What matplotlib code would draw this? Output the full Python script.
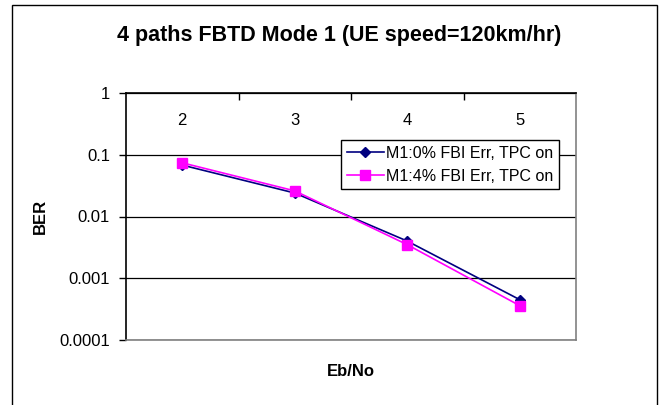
import numpy as np
import matplotlib
matplotlib.use("Agg")
import matplotlib.pyplot as plt
from matplotlib.patches import Rectangle

plt.rcParams['font.family'] = ['Liberation Sans', 'DejaVu Sans']

# Eb/No points and BER for the two FBI error settings
ebno = ['2', '3', '4', '5']
ber_0pct = [0.068, 0.024, 0.0040, 0.00045]
ber_4pct = [0.074, 0.026, 0.0035, 0.00036]
series_names = ['M1:0% FBI Err, TPC on', 'M1:4% FBI Err, TPC on']
y_ticks = [1, 0.1, 0.01, 0.001, 0.0001]
y_labels = ['1', '0.1', '0.01', '0.001', '0.0001']

fig = plt.figure(figsize=(6.62, 4.05), dpi=100)
fig.patches.append(Rectangle((12 / 662, -0.05), 645 / 662, 1 - 5 / 405 + 0.05,
                             transform=fig.transFigure, fill=False,
                             edgecolor='black', linewidth=1.0))

ax = fig.add_axes([126 / 662, 1 - 340 / 405, 450 / 662, 247 / 405])
x = np.arange(len(ebno))

ax.plot(x, ber_0pct, color='#000080', marker='D', markersize=5.5,
        linewidth=1.2, label=series_names[0], zorder=3)
ax.plot(x, ber_4pct, color='#FF00FF', marker='s', markersize=7,
        linewidth=1.2, label=series_names[1], zorder=4)

ax.set_yscale('log')
ax.set_ylim(0.0001, 1)
ax.set_xlim(-0.5, len(ebno) - 0.5)

# y axis: decades with plain labels and gridlines
ax.set_yticks(y_ticks)
ax.set_yticklabels(y_labels)
ax.yaxis.set_minor_locator(matplotlib.ticker.NullLocator())
ax.tick_params(axis='y', which='major', direction='out', length=5,
               width=1, pad=6.5, labelsize=12)
ax.grid(axis='y', color='black', linewidth=0.9)

# category axis along the top, labels sitting inside the plot
ax.xaxis.tick_top()
ax.set_xticks(x[:-1] + 0.5)
ax.set_xticklabels([])
ax.set_xticks(x, minor=True)
ax.set_xticklabels(ebno, minor=True)
ax.tick_params(axis='x', which='major', direction='in', length=5, width=1)
ax.tick_params(axis='x', which='minor', length=0, pad=-25, labelsize=12)

ax.spines['top'].set_color('black')
ax.spines['left'].set_color('black')
ax.spines['bottom'].set_color('#808080')
ax.spines['right'].set_color('#808080')
for s in ax.spines.values():
    s.set_linewidth(1.2)

ax.set_ylabel('BER', fontsize=12, fontweight='bold', labelpad=8)
fig.text(351 / 662, 1 - 371 / 405, 'Eb/No', fontsize=12,
         fontweight='bold', ha='center', va='center')
fig.text(339 / 662, 1 - 36 / 405, '4 paths FBTD Mode 1 (UE speed=120km/hr)',
         fontsize=15.5, fontweight='bold', ha='center', va='center')

leg = ax.legend(loc='upper right', bbox_to_anchor=(0.962, 0.81),
                fontsize=11.5, frameon=True, fancybox=False, framealpha=1,
                edgecolor='black', handlelength=2.3, borderpad=0.35,
                labelspacing=0.5, handletextpad=0.15, borderaxespad=0)
leg.get_frame().set_linewidth(1.0)

fig.savefig('out.png', dpi=100)
